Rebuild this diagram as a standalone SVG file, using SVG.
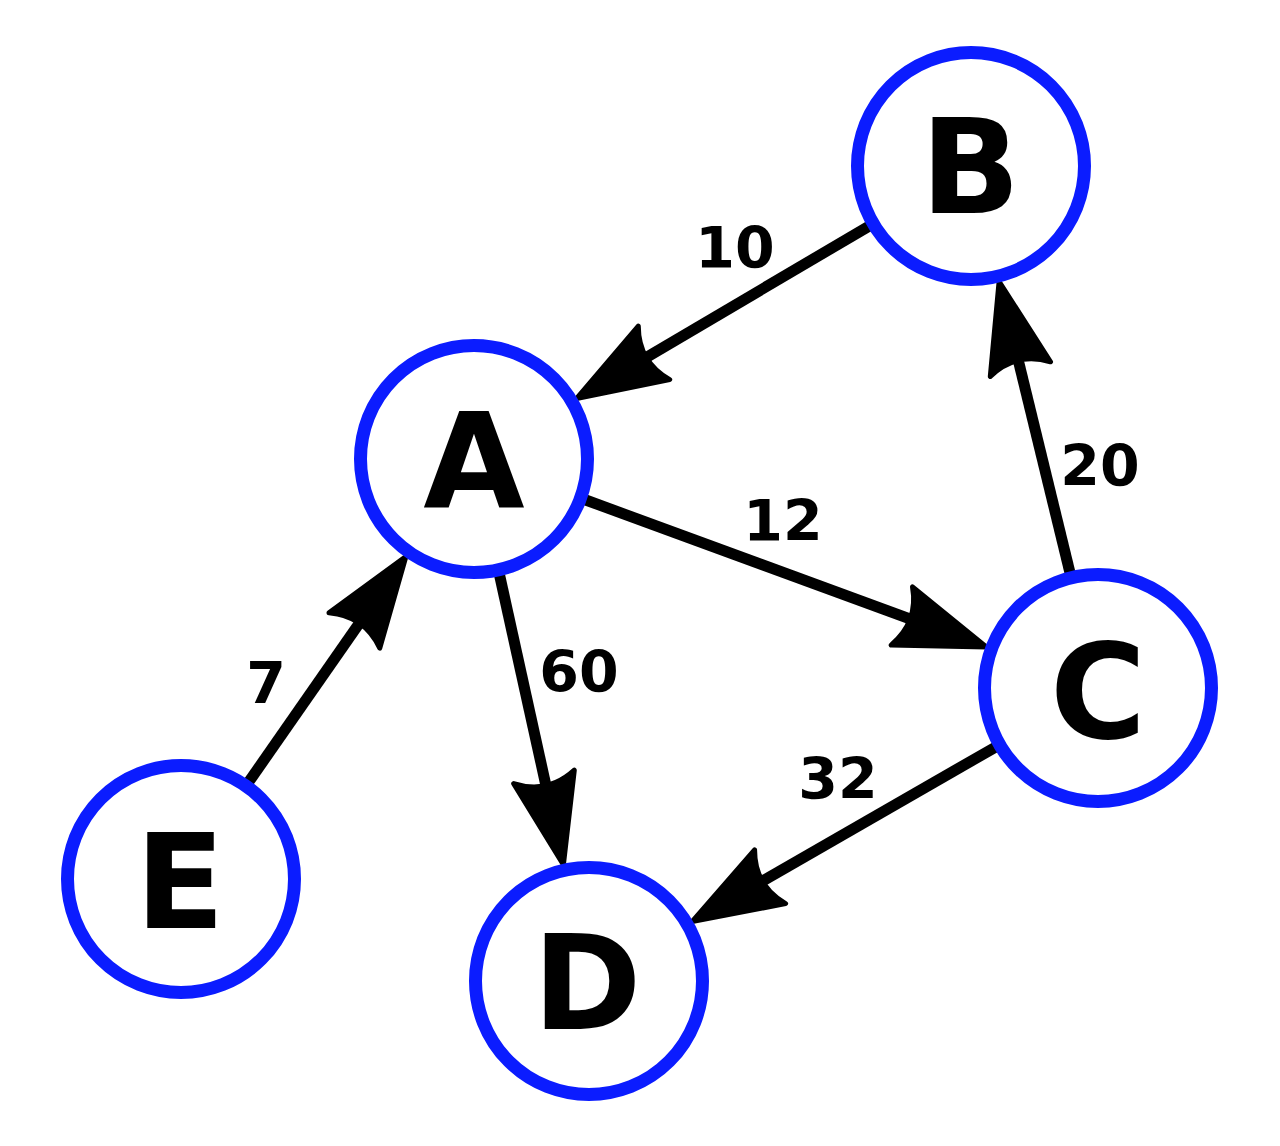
<svg xmlns="http://www.w3.org/2000/svg" width="1280" height="1146" viewBox="0 0 1280 1146">
<style>
.shaft{stroke:#000;stroke-width:11;fill:none}
.head{fill:#000;stroke:#000;stroke-width:5;stroke-linejoin:round}
.node circle{fill:#fff;stroke:#0b1cff;stroke-width:13}
.node text{font-family:"DejaVu Sans",sans-serif;font-weight:bold;font-size:131px;text-anchor:middle;fill:#000}
.lbl{font-family:"DejaVu Sans",sans-serif;font-weight:bold;font-size:57px;text-anchor:middle;fill:#000}
</style>
<rect width="1280" height="1146" fill="#fff"/>
<g id="connectors">
<g id="e-B-A">
<line class="shaft" x1="868.5" y1="226.4" x2="645.4" y2="358.0"/>
<path class="head" d="M576.5,398.6 L638.3,326.2 Q638.5,362.0 669.7,379.6 Z"/>
</g>
<g id="e-A-C">
<line class="shaft" x1="585.7" y1="500" x2="911.2" y2="619.4"/>
<path class="head" d="M986.3,647.0 L912.5,586.9 Q918.7,622.2 891.1,645.1 Z"/>
</g>
<g id="e-C-B">
<line class="shaft" x1="1069.9" y1="572.4" x2="1018.0" y2="359.3"/>
<path class="head" d="M999.1,281.6 L1050.5,361.8 Q1016.1,351.6 990.3,376.4 Z"/>
</g>
<g id="e-A-D">
<line class="shaft" x1="499.6" y1="575.2" x2="546.2" y2="786.7"/>
<path class="head" d="M563.4,864.8 L513.7,783.6 Q547.9,794.5 574.3,770.2 Z"/>
</g>
<g id="e-C-D">
<line class="shaft" x1="994.9" y1="747.4" x2="761.4" y2="881.7"/>
<path class="head" d="M692.1,921.6 L754.6,849.8 Q754.5,885.7 785.6,903.6 Z"/>
</g>
<g id="e-E-A">
<line class="shaft" x1="249.1" y1="781.4" x2="360.1" y2="622.2"/>
<path class="head" d="M405.9,556.6 L379.8,648.1 Q364.7,615.7 329.0,612.7 Z"/>
</g>
<text class="lbl" x="735" y="268">10</text>
<text class="lbl" x="783" y="541">12</text>
<text class="lbl" x="1100" y="486">20</text>
<text class="lbl" x="579" y="692">60</text>
<text class="lbl" x="838" y="799">32</text>
<text class="lbl" x="266" y="703">7</text>
</g>
<g id="A" class="node"><circle cx="474" cy="459" r="113.5"/><text x="474" y="508">A</text></g>
<g id="B" class="node"><circle cx="971" cy="166" r="113.5"/><text x="970.5" y="213">B</text></g>
<g id="C" class="node"><circle cx="1098" cy="688" r="113.5"/><text x="1098" y="738">C</text></g>
<g id="D" class="node"><circle cx="589" cy="981" r="113.5"/><text x="587" y="1029">D</text></g>
<g id="E" class="node"><circle cx="181" cy="879" r="113.5"/><text x="180" y="928">E</text></g>
</svg>
